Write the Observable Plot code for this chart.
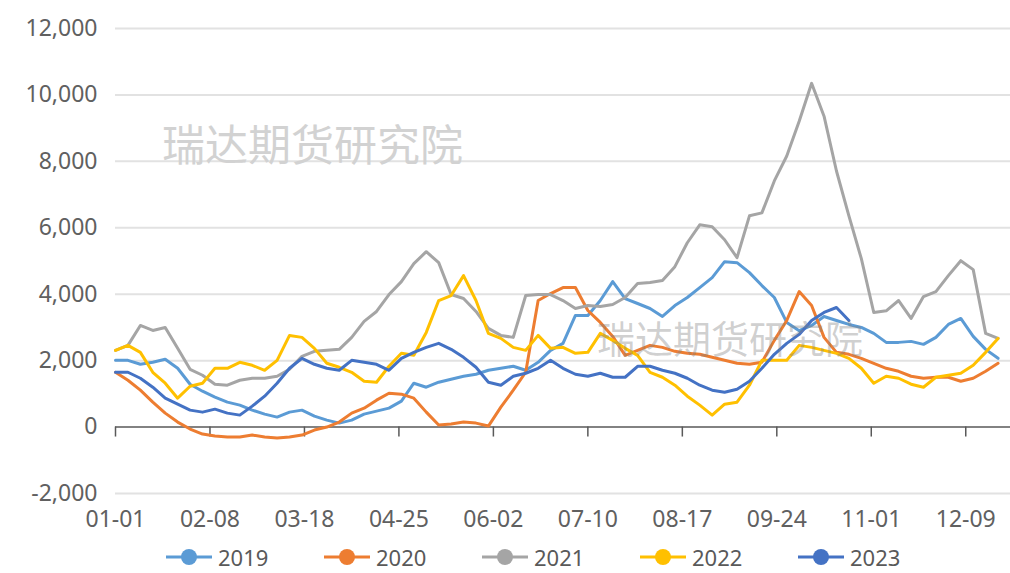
<!DOCTYPE html>
<html>
<head>
<meta charset="utf-8">
<script src="https://cdn.jsdelivr.net/npm/d3@7"></script>
<script src="https://cdn.jsdelivr.net/npm/@observablehq/plot@0.6"></script>
<style>
  html, body { margin: 0; padding: 0; background: #ffffff; }
  #wrap { position: relative; width: 1010px; height: 573px; overflow: hidden; background: #fff; font-family: "Noto Sans", "Open Sans", sans-serif; }
  .wm { position: absolute; white-space: nowrap; font-family: "Noto Sans CJK SC", sans-serif; pointer-events: none; line-height: 1; }
  .leg { position: absolute; top: 541px; height: 32px; display: flex; align-items: center; font-size: 22px; color: #595959; }
  .leg svg { margin-right: 6px; }
</style>
</head>
<body>
<div id="wrap"></div>
<script>
// ---- data ----
const days = [0,5,10,15,20,25,30,35,40,45,50,55,60,65,70,75,80,85,90,95,100,105,110,115,120,125,130,135,140,145,150,155,160,165,170,175,180,185,190,195,200,205,210,215,220,225,230,235,240,245,250,255,260,265,270,275,280,285,290,295,300,305,310,315,320,325,330,335,340,345,350,355];

const xTickDays = [0,38,76,114,152,190,228,266,304,342];
const xTickLabels = ["01-01","02-08","03-18","04-25","06-02","07-10","08-17","09-24","11-01","12-09"];
const yTicks = [-2000,0,2000,4000,6000,8000,10000,12000];

const seriesNames = ["2019","2020","2021","2022","2023"];
const seriesColors = ["#5B9BD5","#ED7D31","#A5A5A5","#FFC000","#4472C4"];

const v2019 = [2010,2010,1890,1950,2040,1770,1290,1080,900,750,
  660,510,390,300,450,510,330,210,120,210,
  390,480,570,780,1320,1200,1350,1440,1530,1590,
  1710,1770,1830,1710,1950,2310,2520,3360,3360,3810,
  4380,3870,3720,3570,3330,3660,3900,4200,4500,4980,
  4950,4650,4260,3900,3150,2900,3060,3330,3210,3090,
  3000,2820,2550,2550,2580,2490,2700,3090,3270,2730,
  2340,2070];

const v2020 = [1650,1410,1110,750,420,150,-60,-210,-270,-300,
  -300,-240,-300,-330,-300,-240,-90,0,150,420,
  570,810,1020,990,870,450,60,90,150,120,
  30,600,1110,1650,3810,4020,4200,4200,3510,3150,
  2730,2160,2310,2460,2400,2280,2220,2190,2100,2010,
  1920,1890,1950,2610,3210,4080,3660,2700,2250,2190,
  2070,1920,1770,1680,1530,1470,1500,1500,1380,1470,
  1680,1920];

const v2021 = [2310,2460,3060,2910,3000,2370,1740,1560,1290,1260,
  1410,1470,1470,1530,1740,2130,2280,2310,2340,2700,
  3180,3480,3990,4380,4920,5280,4950,3990,3870,3480,
  2970,2760,2700,3960,3990,3990,3810,3570,3660,3630,
  3690,3900,4320,4350,4410,4830,5550,6090,6030,5640,
  5100,6360,6450,7410,8160,9210,10350,9360,7710,6360,
  5070,3450,3500,3810,3270,3930,4080,4560,5010,4740,
  2820,2670];

const v2022 = [2310,2460,2250,1650,1320,870,1230,1320,1770,1770,
  1950,1860,1710,2010,2760,2700,2370,1920,1800,1650,
  1380,1350,1830,2220,2160,2850,3810,3960,4560,3810,
  2820,2670,2400,2310,2760,2370,2400,2220,2250,2820,
  2610,2370,2160,1650,1500,1260,930,660,360,690,
  750,1260,2010,2010,2010,2460,2400,2310,2220,2070,
  1770,1320,1530,1470,1290,1200,1500,1560,1620,1860,
  2250,2670];

const v2023 = [1650,1650,1470,1200,870,690,510,450,540,420,
  360,630,930,1320,1770,2070,1890,1770,1710,2010,
  1950,1890,1710,2070,2250,2400,2520,2340,2100,1800,
  1350,1260,1530,1620,1770,2010,1770,1590,1530,1620,
  1500,1500,1830,1830,1710,1620,1470,1260,1110,1050,
  1140,1380,1770,2190,2520,2790,3210,3450,3600,3210];

const watermarkText = "瑞达期货研究院";

// ---- tidy table ----
const allValues = [v2019, v2020, v2021, v2022, v2023];
const rows = [];
seriesNames.forEach((name, i) => {
  allValues[i].forEach((v, j) => rows.push({year: name, day: days[j], value: v}));
});

const chart = Plot.plot({
  width: 1010,
  height: 535,
  marginLeft: 115,
  marginRight: 0,
  marginTop: 28,
  marginBottom: 42,
  style: {fontFamily: '"Noto Sans", "Open Sans", sans-serif', fontSize: "23px", color: "#595959", background: "#ffffff", overflow: "visible"},
  x: {domain: [0, 360]},
  y: {domain: [-2000, 12000]},
  color: {domain: seriesNames, range: seriesColors},
  marks: [
    Plot.gridY(yTicks.filter(t => t !== 0), {stroke: "#e2e2e2", strokeOpacity: 1, strokeWidth: 2}),
    Plot.axisY(yTicks, {tickSize: 0, tickPadding: 18, tickFormat: d => d.toLocaleString("en-US"), label: null, fill: "#606060"}),
    Plot.axisX(xTickDays, {tickSize: 0, tickPadding: 17, tickFormat: d => xTickLabels[xTickDays.indexOf(d)], label: null, fill: "#606060"}),
    Plot.ruleY([0], {stroke: "#595959", strokeWidth: 1.5}),
    Plot.ruleX(xTickDays, {y1: 0, y2: -300, stroke: "#595959", strokeWidth: 1.5}),
    Plot.line(rows, {x: "day", y: "value", z: "year", stroke: "year", strokeWidth: 3, strokeLinejoin: "round"})
  ]
});

const wrap = document.getElementById("wrap");
wrap.appendChild(chart);

// watermarks
const wm1 = document.createElement("div");
wm1.className = "wm";
wm1.textContent = watermarkText;
Object.assign(wm1.style, {left: "162px", top: "121px", fontSize: "43px", color: "#d2d2d2"});
wrap.appendChild(wm1);

const wm2 = document.createElement("div");
wm2.className = "wm";
wm2.textContent = watermarkText;
Object.assign(wm2.style, {left: "597px", top: "318px", fontSize: "38px", color: "rgba(130,130,130,0.38)"});
wrap.appendChild(wm2);

// legend
seriesNames.forEach((name, i) => {
  const item = document.createElement("div");
  item.className = "leg";
  item.style.left = (166 + i * 158) + "px";
  item.innerHTML = `<svg width="46" height="20"><line x1="0" y1="10" x2="46" y2="10" stroke="${seriesColors[i]}" stroke-width="3"/><circle cx="23" cy="10" r="8" fill="${seriesColors[i]}"/></svg><span>${name}</span>`;
  wrap.appendChild(item);
});
</script>
</body>
</html>
